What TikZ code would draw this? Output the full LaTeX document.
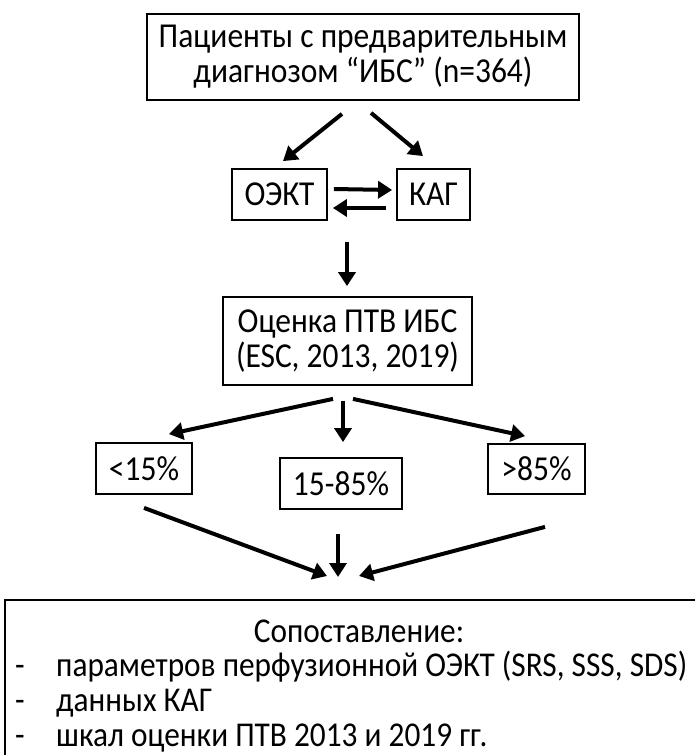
\documentclass[tikz,border=0pt]{standalone}
\usepackage{fontspec}
\setmainfont{Carlito}[FakeStretch=0.9]
\usetikzlibrary{positioning, arrows.meta}

\begin{document}
\begin{tikzpicture}
          [x=1pt, y=-1pt,
           box/.style={draw, line width=1.8pt, inner sep=0pt, align=center,
                       font=\fontsize{35}{35}\selectfont},
           item/.style={anchor=base west, inner sep=0pt, font=\fontsize{34.8}{35}\selectfont},
           arr/.style={-{Triangle[length=14pt, width=17pt]}, line width=4pt}]
            \useasboundingbox (0,0) rectangle (694,755);
            % boxes
            \node (Patients) [box, minimum width=432, minimum height=86] at (363,57)
              {Пациенты с предварительным\\диагнозом “ИБС” (n=364)};
            \node (OEKT) [box, minimum width=95, minimum height=51] at (279.5,194.5) {ОЭКТ};
            \node (KAG) [box, minimum width=73, minimum height=51] at (433.5,194.5) {КАГ};
            \node (Score) [box, minimum width=249, minimum height=88] at (347.5,341)
              {Оценка ПТВ ИБС\\(ESC, 2013, 2019)};
            \node (Low) [box, minimum width=96, minimum height=51] at (144,468.5) {<15\%};
            \node (Mid) [box, minimum width=122, minimum height=51] at (341,483.5) {15-85\%};
            \node (High) [box, minimum width=97, minimum height=50] at (536.5,469) {>85\%};
            \node (Compare) [box, minimum width=710, minimum height=200] at (360,700) {};
            \node (CompareTitle) [item, anchor=base] at (359,642) {Сопоставление:};
            \node (Dash1) [item] at (15,676) {-};
            \node (Item1) [item] at (56,676) {параметров перфузионной ОЭКТ (SRS, SSS, SDS)};
            \node (Dash2) [item] at (15,711) {-};
            \node (Item2) [item] at (56,711) {данных КАГ};
            \node (Dash3) [item] at (15,746) {-};
            \node (Item3) [item] at (56,746) {шкал оценки ПТВ 2013 и 2019 гг.};
            \coordinate (PairOut) at (347,242);
            \coordinate (Meet) at (338,577);
            % arrows
            \draw[arr] ([xshift=-21, yshift=-13]Patients.south) -- ([xshift=3.5, yshift=7]OEKT.north);
            \draw[arr] ([xshift=8, yshift=-12]Patients.south) -- ([xshift=-10.5, yshift=12]KAG.north);
            \draw[arr] ([xshift=6, yshift=5.5]OEKT.east) -- ([xshift=-4, yshift=4.5]KAG.west);
            \draw[arr] ([xshift=-10, yshift=-13.5]KAG.west) -- ([xshift=5, yshift=-13.5]OEKT.east);
            \draw[arr] (PairOut) -- ([xshift=-0.5, yshift=10]Score.north);
            \draw[arr] ([xshift=-14.5, yshift=-13]Score.south) -- ([xshift=25, yshift=8]Low.north);
            \draw[arr] ([xshift=-4.5, yshift=-15]Score.south) -- ([xshift=2, yshift=15]Mid.north);
            \draw[arr] ([xshift=5.5, yshift=-13]Score.south) -- ([xshift=-11.5, yshift=7]High.north);
            \draw[arr] ([yshift=-13]Low.south) -- ([xshift=-11, yshift=1]Meet);
            \draw[arr] ([xshift=-3, yshift=-24]Mid.south) -- (Meet);
            \draw[arr] ([xshift=8.5, yshift=-32]High.south) -- ([xshift=21, yshift=1]Meet);
        \end{tikzpicture}
\end{document}
